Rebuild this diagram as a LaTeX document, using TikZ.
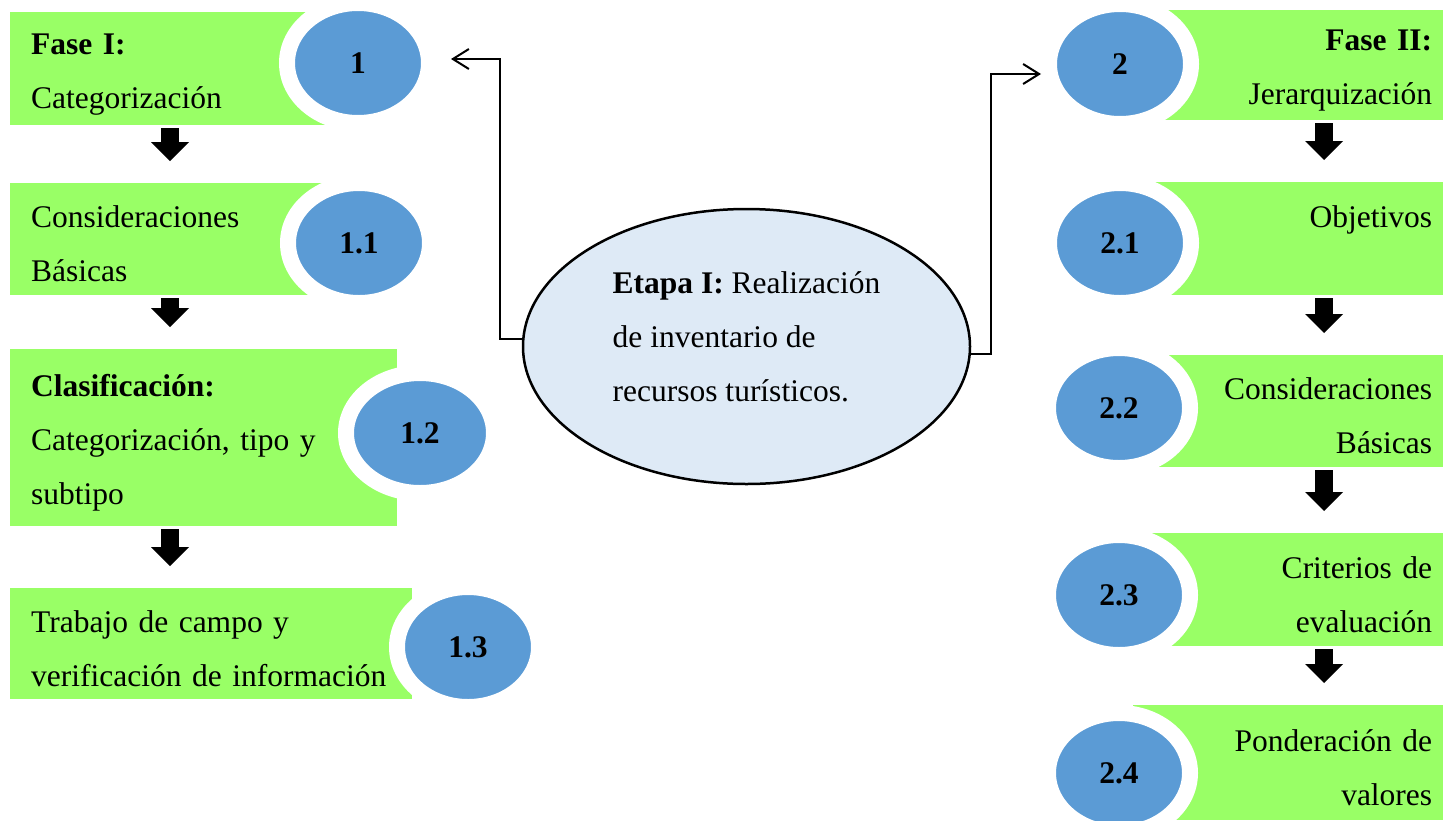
\documentclass[tikz,border=0pt]{standalone}
\usepackage{fontspec}
\setmainfont{Liberation Serif}
\usetikzlibrary{arrows.meta,positioning,shapes.geometric}

\definecolor{phasegreen}{RGB}{153,255,102}
\definecolor{numblue}{RGB}{91,155,213}
\definecolor{stagefill}{RGB}{222,234,246}

\begin{document}
\begin{tikzpicture}[x=1pt,y=-1pt,
    every node/.style={font=\fontsize{31.5}{54}\selectfont},
    lbox/.style={fill=phasegreen, anchor=north west, align=left, inner xsep=21pt, inner ysep=0pt, text height=31.5pt},
    rbox/.style={fill=phasegreen, anchor=north west, align=right, inner xsep=11pt, inner ysep=0pt, text height=31.5pt},
    num/.style={ellipse, fill=numblue, draw=white, line width=16pt, minimum width=142pt, minimum height=120pt,
      inner sep=0pt, font=\fontsize{31.5}{36}\selectfont\bfseries},
    bigarrow/.style={line width=18pt, -{Triangle[length=19pt,width=38pt,line width=0pt]}, shorten <=3pt, shorten >=22pt},
    link/.style={line width=2pt, -{Straight Barb[length=16pt,width=20pt]}}]
      \useasboundingbox (0,0) rectangle (1443,820);
      \node[lbox, text width=306pt, minimum height=113pt] (f1) at (10,12) {\textbf{Fase I:}\\Categorización};
      \node[lbox, text width=306pt, minimum height=112pt] (f11) at (10,183) {Consideraciones\\Básicas};
      \node[lbox, text width=345pt, minimum height=177pt] (f12) at (10,349) {\textbf{Clasificación:}\\Categorización, tipo y\\subtipo};
      \node[lbox, text width=360pt, minimum height=111pt] (f13) at (10,588) {Trabajo de campo y\\verificación de información};
      \node[rbox, text width=301pt, minimum height=110pt] (f2) at (1120,10) {\textbf{Fase II:}\\Jerarquización};
      \node[rbox, text width=301pt, minimum height=113pt] (f21) at (1120,182) {Objetivos\\\mbox{}};
      \node[rbox, text width=301pt, minimum height=112pt] (f22) at (1120,355) {Consideraciones\\Básicas};
      \node[rbox, text width=301pt, minimum height=113pt] (f23) at (1120,533) {Criterios de\\evaluación};
      \node[rbox, text width=288pt, minimum height=115pt] (f24) at (1133,705) {Ponderación de\\valores};
      \node[num] (c1) at (358,63) {1};
      \node[num] (c11) at (359,243) {1.1};
      \node[num, minimum width=148pt] (c12) at (420,433) {1.2};
      \node[num] (c13) at (468,647) {1.3};
      \node[num] (c2) at (1120,64) {2};
      \node[num] (c21) at (1120,243) {2.1};
      \node[num] (c22) at (1119,408) {2.2};
      \node[num] (c23) at (1119,595) {2.3};
      \node[num] (c24) at (1119,773) {2.4};
      \coordinate (lx) at (170,0);
      \coordinate (rx) at (1324,0);
      \draw[bigarrow] (f1.south -| lx) -- (f11.north -| lx);
      \draw[bigarrow] (f11.south -| lx) -- (f12.north -| lx);
      \draw[bigarrow] (f12.south -| lx) -- (f13.north -| lx);
      \draw[bigarrow] (f2.south -| rx) -- (f21.north -| rx);
      \draw[bigarrow] (f21.south -| rx) -- (f22.north -| rx);
      \draw[bigarrow] (f22.south -| rx) -- (f23.north -| rx);
      \draw[bigarrow] (f23.south -| rx) -- (f24.north -| rx);
      \node[ellipse, draw, line width=2.5pt, fill=stagefill, minimum width=447pt, minimum height=275pt, inner sep=0pt,
        align=left, text depth=20pt] (etapa) at (746.5,346.5) {\textbf{Etapa I:} Realización\\de inventario de\\recursos turísticos.};
      \coordinate (k1) at (500,0);
      \coordinate (t1) at (451,59);
      \coordinate (k2) at (991,0);
      \coordinate (t2) at (1041,74);
      \draw[link] (etapa.178) -- (etapa.178 -| k1) |- (t1);
      \draw[link] (etapa.-2) -- (etapa.-2 -| k2) |- (t2);
\end{tikzpicture}
\end{document}
